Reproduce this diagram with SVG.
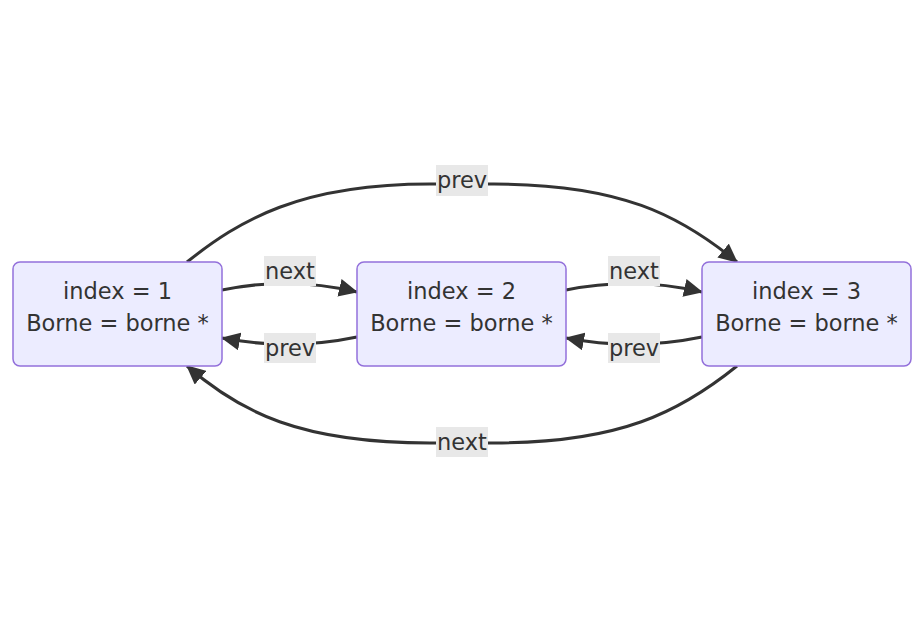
<svg xmlns="http://www.w3.org/2000/svg" width="924" height="628" viewBox="0 0 924 628">
<style>
.node rect{fill:#ECECFF;stroke:#9370DB;stroke-width:1.5}
text{font-family:"DejaVu Sans","Liberation Sans",sans-serif;font-size:22.5px;fill:#333;text-anchor:middle}
.edge{fill:none;stroke:#333;stroke-width:3}
.lbl rect{fill:#e8e8e8}
</style>
<defs>
<marker id="arr" markerUnits="userSpaceOnUse" markerWidth="20" markerHeight="18" refX="18" refY="9" orient="auto" viewBox="0 0 20 18">
<path d="M0,0 L19,9 L0,18 z" fill="#333"/>
</marker>
</defs>
<rect width="924" height="628" fill="#fff"/>
<g id="edges">
<path class="edge" d="M187,262 C240,220 300,184 430,184 L494,184 C620,184 680,215 737,262" marker-end="url(#arr)"/>
<path class="edge" d="M222,290 Q290,276 357,292" marker-end="url(#arr)"/>
<path class="edge" d="M357,337 Q290,351 222,338" marker-end="url(#arr)"/>
<path class="edge" d="M566,290 Q634,276 702,292" marker-end="url(#arr)"/>
<path class="edge" d="M702,337 Q634,351 566,338" marker-end="url(#arr)"/>
<path class="edge" d="M737,366 C680,412 620,443 494,443 L430,443 C300,443 240,412 187,366" marker-end="url(#arr)"/>
</g>
<g id="labels">
<g class="lbl"><rect x="436" y="165" width="52" height="31"/><text x="462" y="188">prev</text></g>
<g class="lbl"><rect x="264" y="256" width="52" height="30"/><text x="290" y="279">next</text></g>
<g class="lbl"><rect x="264" y="333" width="52" height="30"/><text x="290" y="356">prev</text></g>
<g class="lbl"><rect x="608" y="256" width="52" height="30"/><text x="634" y="279">next</text></g>
<g class="lbl"><rect x="608" y="333" width="52" height="30"/><text x="634" y="356">prev</text></g>
<g class="lbl"><rect x="436" y="427" width="52" height="30"/><text x="462" y="450">next</text></g>
</g>
<g id="n1" class="node"><rect x="13" y="262" width="209" height="104" rx="7"/><text x="117.5" y="299">index = 1</text><text x="117.5" y="331">Borne = borne *</text></g>
<g id="n2" class="node"><rect x="357" y="262" width="209" height="104" rx="7"/><text x="461.5" y="299">index = 2</text><text x="461.5" y="331">Borne = borne *</text></g>
<g id="n3" class="node"><rect x="702" y="262" width="209" height="104" rx="7"/><text x="806.5" y="299">index = 3</text><text x="806.5" y="331">Borne = borne *</text></g>
</svg>
